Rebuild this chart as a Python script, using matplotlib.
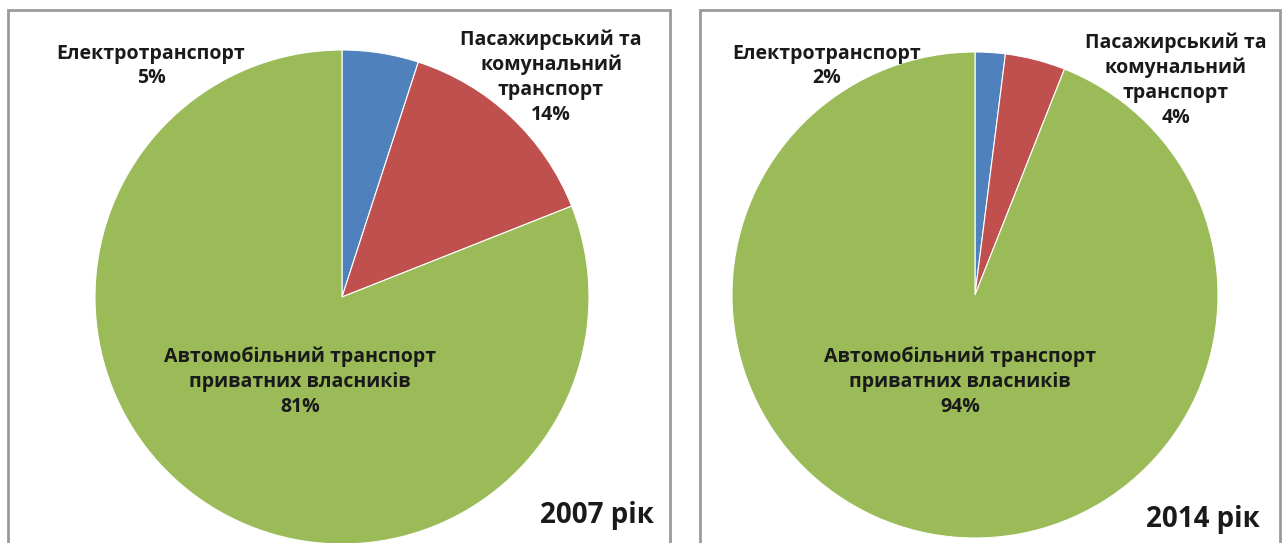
import matplotlib.pyplot as plt
from matplotlib.patches import Rectangle

# data
categories = ["Електротранспорт", "Пасажирський та\nкомунальний\nтранспорт",
              "Автомобільний транспорт\nприватних власників"]
shares_2007 = [5, 14, 81]
shares_2014 = [2, 4, 94]
years = ["2007 рік", "2014 рік"]
colors = ["#4F81BD", "#C0504D", "#9BBB59"]

W, H = 1284, 543
fig = plt.figure(figsize=(W / 100, H / 100), dpi=100)
fig.patch.set_facecolor("white")

lab_font = dict(family=["Open Sans", "DejaVu Sans"], fontsize=14, fontstretch="condensed",
                fontweight="bold", color="#1a1a1a", ha="center", va="center",
                linespacing=1.32)


def px(x, y):
    return x / W, 1 - y / H


def panel(x0, x1, y0, y1):
    r = Rectangle(px(x0, y1), (x1 - x0) / W, (y1 - y0) / H, transform=fig.transFigure,
                  fill=False, edgecolor="#9a9a9a", linewidth=2)
    fig.add_artist(r)


def draw_pie(values, cx, cy, rad, year, pos):
    ax = fig.add_axes([(cx - rad) / W, (H - cy - rad) / H, 2 * rad / W, 2 * rad / H])
    ax.pie(values, colors=colors, startangle=90, counterclock=False,
           wedgeprops=dict(edgecolor="white", linewidth=0.8))
    ax.set_xlim(-1, 1)
    ax.set_ylim(-1, 1)
    ax.set_aspect("auto")
    ax.axis("off")
    for (tx, ty), name, v in zip(pos, categories, values):
        fig.text(*px(tx, ty), f"{name}\n{v}%", **lab_font)
    year_font = dict(lab_font, fontsize=20)
    fig.text(*px(pos[3][0], pos[3][1]), year, **year_font)


panel(8, 670, 10, 545)
panel(700, 1280, 10, 545)

draw_pie(shares_2007, 342, 297, 247, years[0],
         [(151, 66), (551, 77), (300, 382), (597, 515)])
draw_pie(shares_2014, 975, 295, 243, years[1],
         [(827, 66), (1176, 80), (960, 382), (1203, 520)])

fig.savefig("out.png", dpi=100)
